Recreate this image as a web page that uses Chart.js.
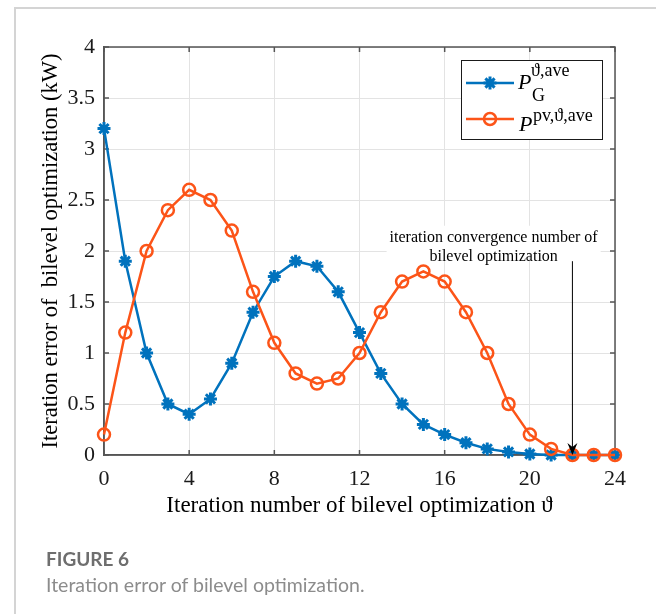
<!DOCTYPE html>
<html>
<head>
<meta charset="utf-8">
<script src="https://cdn.jsdelivr.net/npm/chart.js"></script>
<style>
html,body{margin:0;padding:0;background:#fff;}
#wrap{position:relative;width:656px;height:614px;overflow:hidden;background:#fff;}
#card{position:absolute;left:14px;top:7px;width:800px;height:700px;border-left:2px solid #d4d4d4;border-top:2px solid #d4d4d4;}
#c{position:absolute;left:0;top:0;}
#figlabel{position:absolute;left:46px;top:549px;font-family:Lato,"Open Sans",sans-serif;font-weight:700;font-size:19px;line-height:1;color:#6e6e6e;white-space:nowrap;}
#figcap{position:absolute;left:46px;top:575px;font-family:Lato,"Open Sans",sans-serif;font-weight:400;font-size:19.5px;line-height:1;color:#8c8c8c;white-space:nowrap;}
</style>
</head>
<body>
<div id="wrap">
  <div id="card"></div>
  <canvas id="c" width="656" height="614"></canvas>
  <div id="figlabel">FIGURE 6</div>
  <div id="figcap">Iteration error of bilevel optimization.</div>
</div>
<script>
// ---------------- data ----------------
const iterations = [0,1,2,3,4,5,6,7,8,9,10,11,12,13,14,15,16,17,18,19,20,21,22,23,24];
const gridError  = [3.2,1.9,1.0,0.5,0.4,0.55,0.9,1.4,1.75,1.9,1.85,1.6,1.2,0.8,0.5,0.3,0.2,0.12,0.06,0.03,0.01,0,0,0,0];
const pvError    = [0.2,1.2,2.0,2.4,2.6,2.5,2.2,1.6,1.1,0.8,0.7,0.75,1.0,1.4,1.7,1.8,1.7,1.4,1.0,0.5,0.2,0.06,0,0,0];
const xTickValues = [0,4,8,12,16,20,24];
const yTickValues = [0,0.5,1,1.5,2,2.5,3,3.5,4];
const xTitle = 'Iteration number of bilevel optimization \u03D1';
const yTitle = 'Iteration error of  bilevel optimization (kW)';
const annotationLines = ['iteration convergence number of', 'bilevel optimization'];
const convergenceIteration = 22;

// ---------------- style ----------------
const SERIF = '"Liberation Serif","Times New Roman",serif';
const BLUE = '#0072BD';
const ORANGE = '#FC5418';
const AXIS = '#555555';

function toPoints(ys){ return iterations.map((x,i)=>({x:x,y:ys[i]})); }

function drawStar(ctx, x, y, r){
  ctx.beginPath();
  for (let k=0;k<4;k++){
    const a = k*Math.PI/4;
    ctx.moveTo(x - r*Math.cos(a), y - r*Math.sin(a));
    ctx.lineTo(x + r*Math.cos(a), y + r*Math.sin(a));
  }
  ctx.stroke();
}

const decor = {
  id: 'decor',
  beforeDatasetsDraw(chart){
    const {ctx, chartArea:a, scales:{x, y}} = chart;
    ctx.save();
    ctx.strokeStyle = AXIS;
    ctx.lineWidth = 1.5;
    ctx.strokeRect(a.left, a.top, a.right - a.left, a.bottom - a.top);
    ctx.beginPath();
    xTickValues.forEach(v=>{
      const px = x.getPixelForValue(v);
      ctx.moveTo(px, a.bottom); ctx.lineTo(px, a.bottom - 5);
      ctx.moveTo(px, a.top); ctx.lineTo(px, a.top + 5);
    });
    yTickValues.forEach(v=>{
      const py = y.getPixelForValue(v);
      ctx.moveTo(a.left, py); ctx.lineTo(a.left + 5, py);
      ctx.moveTo(a.right, py); ctx.lineTo(a.right - 5, py);
    });
    ctx.stroke();
    ctx.restore();
  },
  afterDatasetsDraw(chart){
    const {ctx, scales:{x, y}} = chart;
    ctx.save();
    ctx.font = '16px ' + SERIF;
    ctx.textAlign = 'center';
    ctx.textBaseline = 'middle';
    const tx = x.getPixelForValue(18.3);
    const ty1 = y.getPixelForValue(2.13);
    const ty2 = y.getPixelForValue(1.94);
    const w1 = ctx.measureText(annotationLines[0]).width;
    const gy = y.getPixelForValue(2);
    ctx.fillStyle = '#ffffff';
    ctx.fillRect(tx - w1/2 - 3, ty1 - 12, w1 + 6, gy + 1.5 - (ty1 - 12));
    ctx.fillStyle = '#000';
    ctx.fillText(annotationLines[0], tx, ty1);
    ctx.fillText(annotationLines[1], tx, ty2);
    const ax = x.getPixelForValue(convergenceIteration);
    const atop = y.getPixelForValue(1.9);
    const abot = y.getPixelForValue(0);
    ctx.strokeStyle = '#000';
    ctx.lineWidth = 1;
    ctx.beginPath();
    ctx.moveTo(ax, atop); ctx.lineTo(ax, abot - 8);
    ctx.stroke();
    ctx.beginPath();
    ctx.moveTo(ax, abot);
    ctx.lineTo(ax - 5, abot - 12);
    ctx.lineTo(ax, abot - 8);
    ctx.lineTo(ax + 5, abot - 12);
    ctx.closePath();
    ctx.fillStyle = '#000';
    ctx.fill();
    ctx.restore();
  },
  afterDraw(chart){
    const {ctx, chartArea:a} = chart;
    const bx = a.right - 154, by = a.top + 13, bw = 141, bh = 79;
    ctx.save();
    ctx.fillStyle = '#fff';
    ctx.fillRect(bx, by, bw, bh);
    ctx.strokeStyle = '#1a1a1a';
    ctx.lineWidth = 1;
    ctx.strokeRect(bx + 0.5, by + 0.5, bw, bh);
    const e1 = by + 23, e2 = by + 59;
    ctx.lineWidth = 2.5;
    ctx.strokeStyle = BLUE;
    ctx.beginPath(); ctx.moveTo(bx + 5, e1); ctx.lineTo(bx + 53, e1); ctx.stroke();
    ctx.lineWidth = 3;
    drawStar(ctx, bx + 29, e1, 6.5);
    ctx.lineWidth = 2.5;
    ctx.strokeStyle = ORANGE;
    ctx.beginPath(); ctx.moveTo(bx + 5, e2); ctx.lineTo(bx + 53, e2); ctx.stroke();
    ctx.beginPath(); ctx.arc(bx + 29, e2, 6, 0, Math.PI*2); ctx.stroke();
    ctx.fillStyle = '#000';
    ctx.textAlign = 'left';
    ctx.textBaseline = 'alphabetic';
    ctx.font = 'italic 22px ' + SERIF;
    ctx.fillText('P', bx + 57, by + 29);
    ctx.fillText('P', bx + 58, by + 71);
    ctx.font = '18px ' + SERIF;
    ctx.fillText('\u03D1,ave', bx + 70, by + 16);
    ctx.fillText('G', bx + 71, by + 41);
    ctx.fillText('pv,\u03D1,ave', bx + 72, by + 61);
    ctx.restore();
  }
};

const tickFmt = v => String(v);

new Chart(document.getElementById('c'), {
  type: 'line',
  data: {
    datasets: [
      {
        label: 'P_G^{\u03D1,ave}',
        data: toPoints(gridError),
        borderColor: BLUE,
        backgroundColor: BLUE,
        borderWidth: 2.5,
        pointStyle: 'star',
        pointRadius: 6.5,
        pointBorderWidth: 3,
        pointBorderColor: BLUE,
        pointBackgroundColor: BLUE,
        tension: 0,
        clip: false,
        order: 2
      },
      {
        label: 'P^{pv,\u03D1,ave}',
        data: toPoints(pvError),
        borderColor: ORANGE,
        backgroundColor: 'rgba(0,0,0,0)',
        borderWidth: 2.5,
        pointStyle: 'circle',
        pointRadius: 6,
        pointBorderWidth: 2.5,
        pointBorderColor: ORANGE,
        pointBackgroundColor: 'rgba(0,0,0,0)',
        tension: 0,
        clip: false,
        order: 1
      }
    ]
  },
  options: {
    responsive: false,
    animation: false,
    events: [],
    layout: { padding: { left: 0, top: 47, right: 41, bottom: 89 } },
    plugins: { legend: { display: false }, tooltip: { enabled: false } },
    scales: {
      x: {
        type: 'linear', min: 0, max: 24,
        afterBuildTicks: s => { s.ticks = xTickValues.map(v => ({ value: v })); },
        afterFit: s => { s.height = 70; },
        ticks: { font: { family: SERIF, size: 22 }, color: '#1a1a1a', padding: 11, maxRotation: 0, autoSkip: false, callback: tickFmt },
        grid: { color: '#e3e3e3', lineWidth: 1, drawTicks: false },
        border: { color: AXIS, width: 1.5 },
        title: { display: true, text: xTitle, font: { family: SERIF, size: 23 }, color: '#000', padding: { top: 0, bottom: 5 } }
      },
      y: {
        type: 'linear', min: 0, max: 4,
        afterBuildTicks: s => { s.ticks = yTickValues.map(v => ({ value: v })); },
        afterFit: s => { s.width = 104; },
        ticks: { font: { family: SERIF, size: 22 }, color: '#1a1a1a', padding: 9, callback: tickFmt },
        grid: { color: '#e3e3e3', lineWidth: 1, drawTicks: false },
        border: { color: AXIS, width: 1.5 },
        title: { display: true, text: yTitle, font: { family: SERIF, size: 22.5 }, color: '#000', padding: { top: 38, bottom: 0 } }
      }
    }
  },
  plugins: [decor]
});
</script>
</body>
</html>
